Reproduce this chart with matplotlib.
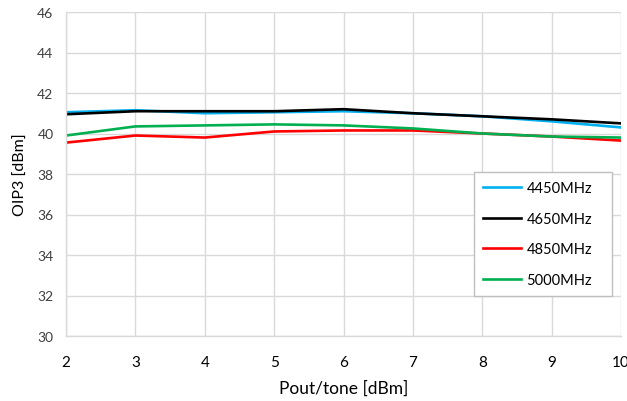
import matplotlib
matplotlib.use("Agg")
import matplotlib.pyplot as plt

plt.rcParams['font.family'] = ['Lato', 'DejaVu Sans']

# output power per tone (dBm)
pout = [2, 3, 4, 5, 6, 7, 8, 9, 10]

# OIP3 (dBm) per frequency
oip3_4450 = [41.05, 41.15, 41.0, 41.05, 41.1, 41.0, 40.85, 40.6, 40.3]
oip3_4650 = [40.95, 41.1, 41.1, 41.1, 41.2, 41.0, 40.85, 40.7, 40.5]
oip3_4850 = [39.55, 39.9, 39.8, 40.1, 40.15, 40.15, 40.0, 39.85, 39.65]
oip3_5000 = [39.9, 40.35, 40.4, 40.45, 40.4, 40.25, 40.0, 39.85, 39.8]

series = [
    ("4450MHz", oip3_4450, "#00b0f0"),
    ("4650MHz", oip3_4650, "#000000"),
    ("4850MHz", oip3_4850, "#ff0000"),
    ("5000MHz", oip3_5000, "#00b050"),
]

fig = plt.figure(figsize=(6.27, 4.02), dpi=100)
ax = fig.add_axes([66 / 627, 1 - 337 / 402, (621 - 66) / 627, (337 - 13) / 402])

for name, vals, col in series:
    ax.plot(pout, vals, color=col, lw=1.9, label=name, solid_joinstyle="round")

ax.set_xlim(2, 10)
ax.set_ylim(30, 46)
ax.set_xticks(range(2, 11))
ax.set_yticks(range(30, 47, 2))
ax.grid(True, color="#d9d9d9", lw=1.0)
ax.set_axisbelow(True)
for s in ["top", "right"]:
    ax.spines[s].set_visible(False)
for s in ["left", "bottom"]:
    ax.spines[s].set_color("#d9d9d9")
    ax.spines[s].set_linewidth(1.0)
ax.tick_params(length=0)
ax.tick_params(axis="y", labelsize=10, labelcolor="#404040", pad=9)
ax.tick_params(axis="x", labelsize=11, labelcolor="#000000", pad=14)

ax.set_xlabel("Pout/tone [dBm]", fontsize=12.5, labelpad=7)
ax.set_ylabel("OIP3 [dBm]", fontsize=11.5, labelpad=7)

leg = ax.legend(loc="lower left", bbox_to_anchor=((474 - 66) / 555, (337 - 297) / 324,
                                                    (612 - 474) / 555, (297 - 176) / 324),
                mode="expand", fontsize=10.5, frameon=True, fancybox=False,
                handlelength=2.6, handletextpad=0.4, labelspacing=1.15,
                borderpad=0.6, borderaxespad=0)
leg.get_frame().set_edgecolor("#bfbfbf")
leg.get_frame().set_linewidth(1.0)
leg.get_frame().set_facecolor("white")
leg.get_frame().set_alpha(1.0)

fig.savefig("out.png", dpi=100)
